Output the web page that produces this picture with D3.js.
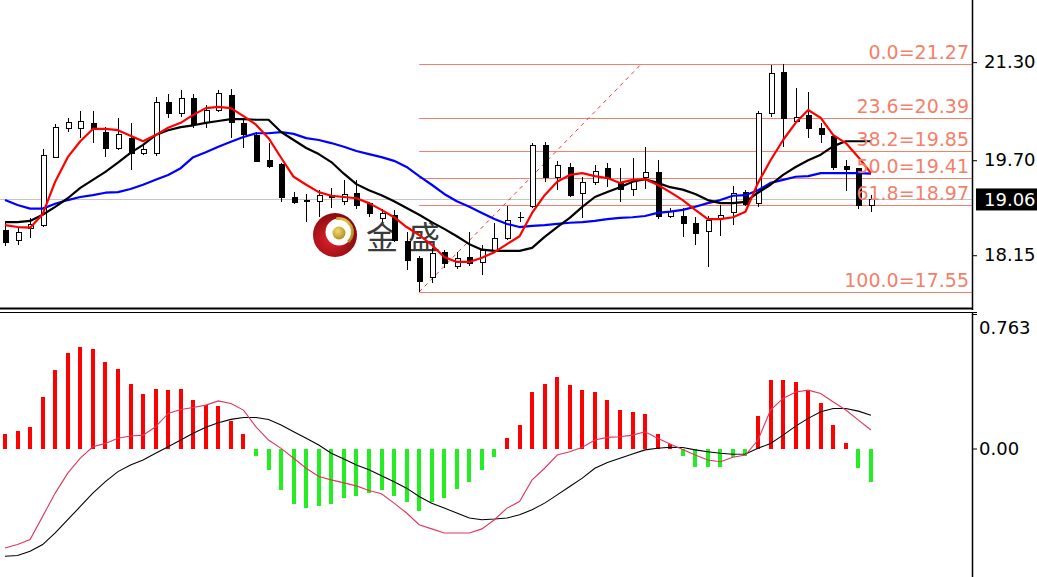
<!DOCTYPE html>
<html><head><meta charset="utf-8">
<script src="https://cdn.jsdelivr.net/npm/d3@7"></script>
<style>html,body{margin:0;padding:0;background:#fff;overflow:hidden}</style>
</head><body><svg id="c" width="1037" height="577"></svg>
<script>
// ---- DATA ----
const openP = [18.56,18.40,18.60,18.64,19.75,20.23,20.23,20.31,20.16,19.90,
20.06,19.82,19.82,20.65,20.47,20.72,20.32,20.52,20.76,20.31,
20.11,19.70,19.64,19.10,19.05,19.04,19.13,19.04,19.17,19.00,
18.76,18.81,18.38,18.10,17.80,18.20,17.97,18.12,18.04,18.24,
18.43,18.77,18.95,19.95,19.43,19.59,19.17,19.35,19.57,19.33,
19.23,19.43,19.51,18.79,18.79,18.68,18.55,18.76,18.86,19.18,
19.00,20.47,21.14,20.34,20.44,20.23,20.10,19.61,19.57,18.97];
const highP = [18.69,18.61,18.76,19.88,20.29,20.39,20.50,20.50,20.24,20.39,
20.31,19.95,20.73,20.78,20.85,20.78,20.60,20.85,20.86,20.36,
20.16,19.98,19.66,19.18,19.15,19.21,19.25,19.38,19.38,19.02,
18.91,18.89,18.53,18.14,18.27,18.24,18.20,18.53,18.32,18.68,
18.95,18.86,19.98,20.00,19.69,19.66,19.43,19.62,19.66,19.57,
19.74,19.92,19.70,18.92,18.92,18.77,18.79,18.97,19.28,19.21,
20.50,21.25,21.27,20.88,20.81,20.31,20.11,19.70,19.57,19.13];
const lowP = [18.30,18.32,18.43,18.61,19.74,20.16,20.06,19.98,19.75,19.87,
19.54,19.79,19.77,20.39,20.41,20.23,20.23,20.49,20.06,19.90,
19.67,19.57,19.02,18.99,18.69,18.77,18.92,18.97,18.91,18.77,
18.69,18.37,17.91,17.55,17.70,17.94,17.93,17.97,17.83,18.20,
18.40,18.69,18.92,19.35,19.21,19.10,18.76,19.30,19.26,19.02,
19.12,19.23,18.74,18.76,18.45,18.32,17.96,18.46,18.64,18.95,
18.94,20.41,19.92,20.32,20.06,19.98,19.54,19.20,18.91,18.86];
const closeP = [18.37,18.53,18.66,19.79,20.24,20.32,20.34,20.21,19.90,20.13,
19.82,19.88,20.65,20.47,20.72,20.29,20.52,20.80,20.32,20.13,
19.69,19.61,19.10,19.02,19.04,19.13,19.10,19.15,18.97,18.84,
18.84,18.40,18.07,17.73,18.19,18.02,18.11,18.02,18.24,18.43,
18.72,18.77,19.95,19.43,19.62,19.13,19.35,19.52,19.41,19.23,
19.38,19.51,18.79,18.87,18.68,18.51,18.73,18.81,19.17,18.99,
20.47,21.12,20.39,20.41,20.23,20.13,19.59,19.56,18.97,19.06];
const maRed = [18.64,18.61,18.60,18.82,19.35,19.75,20.01,20.21,20.21,20.19,
20.10,20.01,20.11,20.23,20.31,20.44,20.55,20.57,20.55,20.42,
20.28,20.06,19.74,19.43,19.30,19.18,19.12,19.10,19.08,19.00,
18.89,18.77,18.61,18.48,18.32,18.12,18.04,18.04,18.11,18.20,
18.33,18.46,18.84,19.13,19.35,19.46,19.49,19.44,19.41,19.33,
19.38,19.39,19.30,19.18,19.05,18.89,18.74,18.74,18.77,18.86,
19.33,19.70,20.03,20.31,20.52,20.39,20.11,19.98,19.75,19.49];
const maBlack = [18.69,18.69,18.71,18.81,18.94,19.08,19.25,19.38,19.51,19.66,
19.82,19.95,20.11,20.19,20.24,20.27,20.31,20.34,20.37,20.37,
20.36,20.36,20.16,20.03,19.90,19.80,19.67,19.48,19.31,19.21,
19.13,19.03,18.92,18.81,18.69,18.58,18.46,18.33,18.24,18.22,
18.22,18.22,18.27,18.45,18.61,18.76,18.94,19.10,19.18,19.26,
19.35,19.39,19.33,19.26,19.22,19.15,19.05,19.00,19.00,19.02,
19.17,19.30,19.46,19.59,19.70,19.79,19.93,20.01,20.01,20.01];
const maBlue = [19.05,18.97,18.91,18.91,18.99,19.05,19.10,19.13,19.17,19.18,
19.23,19.30,19.38,19.46,19.57,19.75,19.83,19.92,20.00,20.08,
20.14,20.14,20.16,20.13,20.06,20.03,19.98,19.92,19.85,19.80,
19.75,19.69,19.59,19.44,19.30,19.15,19.03,18.94,18.84,18.74,
18.66,18.61,18.63,18.64,18.66,18.68,18.69,18.71,18.74,18.76,
18.77,18.79,18.84,18.86,18.89,18.94,19.00,19.05,19.12,19.13,
19.21,19.33,19.38,19.43,19.44,19.49,19.49,19.49,19.49,19.48];
const macdHist = [0.082,0.101,0.123,0.293,0.444,0.541,0.575,0.566,0.490,0.449,
0.368,0.308,0.340,0.334,0.340,0.274,0.246,0.240,0.157,0.082,
-0.042,-0.121,-0.238,-0.314,-0.338,-0.329,-0.314,-0.280,-0.267,-0.253,
-0.238,-0.267,-0.304,-0.357,-0.306,-0.278,-0.231,-0.188,-0.121,-0.046,
0.058,0.133,0.321,0.364,0.406,0.359,0.331,0.321,0.274,0.221,
0.206,0.193,0.082,0.025,-0.045,-0.103,-0.103,-0.103,-0.046,-0.042,
0.184,0.387,0.391,0.377,0.331,0.259,0.133,0.033,-0.112,-0.188];
const macdPink = [-0.564,-0.545,-0.517,-0.385,-0.253,-0.140,-0.055,0.010,0.029,0.058,
0.071,0.076,0.123,0.199,0.221,0.233,0.246,0.270,0.255,0.218,
0.123,0.048,0.001,-0.055,-0.112,-0.159,-0.178,-0.195,-0.212,-0.238,
-0.257,-0.310,-0.366,-0.432,-0.456,-0.479,-0.479,-0.479,-0.456,-0.404,
-0.338,-0.301,-0.178,-0.112,-0.037,-0.018,0.007,0.048,0.063,0.067,
0.076,0.095,0.058,0.025,-0.006,-0.037,-0.065,-0.075,-0.050,-0.037,
0.048,0.218,0.284,0.321,0.331,0.312,0.264,0.218,0.161,0.105];
const macdBlack = [-0.611,-0.607,-0.583,-0.545,-0.479,-0.404,-0.329,-0.253,-0.188,-0.131,
-0.093,-0.065,-0.027,0.010,0.048,0.086,0.120,0.146,0.165,0.176,
0.176,0.165,0.133,0.095,0.058,0.020,-0.027,-0.059,-0.093,-0.121,
-0.155,-0.188,-0.225,-0.272,-0.310,-0.338,-0.366,-0.394,-0.404,-0.400,
-0.394,-0.376,-0.347,-0.310,-0.263,-0.216,-0.168,-0.112,-0.080,-0.055,
-0.031,-0.008,0.001,0.007,0.006,-0.008,-0.018,-0.027,-0.033,-0.031,
0.001,0.029,0.076,0.127,0.171,0.208,0.227,0.227,0.212,0.189];
const fibPct = ["0.0","23.6","38.2","50.0","61.8","100.0"];
const fibPrice = [21.27,20.39,19.85,19.41,18.97,17.55];
const fibStart = {i:33, p:17.55};
const fibEnd = {i:50.7, p:21.27};
const priceTicks = [21.30,19.70,18.15];
const macdTicks = [0.763,0.00];
const lastPrice = 19.06;

// ---- CHART ----
const svg = d3.select('#c');
const AX = 972;
const x = d3.scaleLinear().domain([0,69]).range([5,870.95]);
const y = d3.scaleLinear().domain([17.55,21.27]).range([292,64]);
const ym = d3.scaleLinear().domain([0,0.763]).range([448.5,314]);
const FONT = "'DejaVu Sans', Verdana, sans-serif";
const FIB = "#f47f6b";

const defs = svg.append('defs');
defs.append('clipPath').attr('id','cm').append('rect').attr('x',0).attr('y',0).attr('width',AX).attr('height',308);
defs.append('clipPath').attr('id','cd').append('rect').attr('x',0).attr('y',313).attr('width',AX).attr('height',264);
const rg = defs.append('radialGradient').attr('id','lg').attr('cx','40%').attr('cy','60%').attr('r','60%');
rg.append('stop').attr('offset','0%').attr('stop-color','#e0202a');
rg.append('stop').attr('offset','100%').attr('stop-color','#8a0a10');
const gg = defs.append('radialGradient').attr('id','gd').attr('cx','40%').attr('cy','35%').attr('r','70%');
gg.append('stop').attr('offset','0%').attr('stop-color','#f0dc70');
gg.append('stop').attr('offset','100%').attr('stop-color','#b08a18');

const main = svg.append('g').attr('clip-path','url(#cm)');

// current price line
main.append('line').attr('x1',0).attr('x2',AX).attr('y1',Math.round(y(lastPrice))+0.5).attr('y2',Math.round(y(lastPrice))+0.5)
  .attr('stroke','#c4c4c4').attr('stroke-width',1);

// fib lines
main.selectAll('.fib').data(fibPrice).join('line')
  .attr('x1',x(fibStart.i)).attr('x2',AX)
  .attr('y1',d=>Math.round(y(d))+0.5).attr('y2',d=>Math.round(y(d))+0.5)
  .attr('stroke',FIB).attr('stroke-width',1.2);
main.append('line').attr('x1',x(fibStart.i)).attr('y1',y(fibStart.p)).attr('x2',x(fibEnd.i)).attr('y2',y(fibEnd.p))
  .attr('stroke','#f03a30').attr('stroke-width',1).attr('stroke-dasharray','4,4');

// watermark
const wm = main.append('g').attr('transform','translate(335,235)');
wm.append('circle').attr('r',22).attr('fill','url(#lg)');
wm.append('circle').attr('cx',4).attr('cy',-3).attr('r',13.5).attr('fill','#fff');
wm.append('path').attr('d',d3.arc()({innerRadius:12,outerRadius:15,startAngle:-0.2,endAngle:2.4})).attr('transform','translate(4,-3)').attr('fill','url(#gd)');
wm.append('circle').attr('cx',4).attr('cy',-2).attr('r',6.5).attr('fill','url(#gd)');
main.append('text').attr('x',366).attr('y',249).text('金').attr('font-family',"'Noto Sans CJK SC'").attr('font-size',32).attr('fill','#3a3a3a');
main.append('text').attr('x',408).attr('y',249).text('盛').attr('font-family',"'Noto Sans CJK SC'").attr('font-size',32).attr('fill','#3a3a3a');

// candles
const idx = d3.range(openP.length);
const cg = main.append('g').attr('shape-rendering','crispEdges');
idx.forEach(i=>{
  const cx = Math.round(x(i))+0.5;
  cg.append('line').attr('x1',cx).attr('x2',cx).attr('y1',Math.round(y(highP[i]))).attr('y2',Math.round(y(lowP[i])))
    .attr('stroke','#000').attr('stroke-width',1);
  const t = Math.round(y(Math.max(openP[i],closeP[i])))+0.5;
  const b = Math.round(y(Math.min(openP[i],closeP[i])))+0.5;
  const bull = closeP[i] >= openP[i];
  cg.append('rect').attr('x',cx-2.5).attr('y',t).attr('width',5).attr('height',Math.max(b-t,0.01))
    .attr('fill',bull?'#fff':'#000').attr('stroke','#000').attr('stroke-width',1);
});

// moving averages
const ln = d3.line().x((d,i)=>x(i)).y(d=>y(d));
[[maBlue,'#0000ff'],[maBlack,'#000000'],[maRed,'#ff0000']].forEach(([arr,col])=>{
  main.append('path').attr('d',ln(arr)).attr('fill','none').attr('stroke',col).attr('stroke-width',2.2).attr('stroke-linejoin','round');
});

// fib labels
main.selectAll('.fl').data(fibPrice).join('text')
  .attr('x',969).attr('y',d=>y(d)-5).attr('text-anchor','end')
  .attr('font-family',FONT).attr('font-size',19).attr('fill',FIB)
  .text((d,i)=>fibPct[i]+'='+d.toFixed(2));

// MACD
const mg = svg.append('g').attr('clip-path','url(#cd)');
mg.append('g').attr('shape-rendering','crispEdges').selectAll('rect').data(macdHist).join('rect')
  .attr('x',(d,i)=>Math.round(x(i))-2).attr('width',4)
  .attr('y',d=>Math.min(ym(d),ym(0))).attr('height',d=>Math.abs(ym(d)-ym(0)))
  .attr('fill',d=>d>=0?'#ff0000':'#22ee22');
const lm = d3.line().x((d,i)=>x(i)).y(d=>ym(d));
mg.append('path').attr('d',lm(macdBlack)).attr('fill','none').attr('stroke','#000').attr('stroke-width',1.1);
mg.append('path').attr('d',lm(macdPink)).attr('fill','none').attr('stroke','#e0365c').attr('stroke-width',1.1);

// panel borders
svg.append('line').attr('x1',0).attr('x2',AX+1).attr('y1',308.5).attr('y2',308.5).attr('stroke','#000').attr('stroke-width',2);
svg.append('line').attr('x1',0).attr('x2',AX+5).attr('y1',312.5).attr('y2',312.5).attr('stroke','#000').attr('stroke-width',1);
svg.append('line').attr('x1',AX+0.5).attr('x2',AX+0.5).attr('y1',0).attr('y2',310).attr('stroke','#000').attr('stroke-width',1.5);
svg.append('line').attr('x1',AX+0.5).attr('x2',AX+0.5).attr('y1',312).attr('y2',577).attr('stroke','#000').attr('stroke-width',1.5);

// axes
const ay = svg.append('g').attr('transform',`translate(${AX},0)`)
  .call(d3.axisRight(y).tickValues(priceTicks).tickSize(5).tickPadding(7).tickFormat(d3.format('.2f')));
ay.select('.domain').remove();
ay.selectAll('text').attr('font-family',FONT).attr('font-size',18).attr('fill','#000');
ay.selectAll('line').attr('stroke','#000');

const am = svg.append('g').attr('transform',`translate(${AX},0)`)
  .call(d3.axisRight(ym).tickValues(macdTicks).tickSize(5).tickPadding(2).tickFormat(d=>d===0?'0.00':d3.format('.3f')(d)));
am.select('.domain').remove();
am.selectAll('text').attr('font-family',FONT).attr('font-size',18).attr('fill','#000')
  .attr('dy',d=>d>0?'1.1em':'0.32em');
am.selectAll('line').attr('stroke','#000');

// last price box
const yl = y(lastPrice);
svg.append('rect').attr('x',976).attr('y',yl-11).attr('width',61).attr('height',22).attr('fill','#000');
svg.append('text').attr('x',984).attr('y',yl).attr('dy','0.36em').attr('font-family',FONT).attr('font-size',18).attr('fill','#fff').text(lastPrice.toFixed(2));
</script></body></html>
